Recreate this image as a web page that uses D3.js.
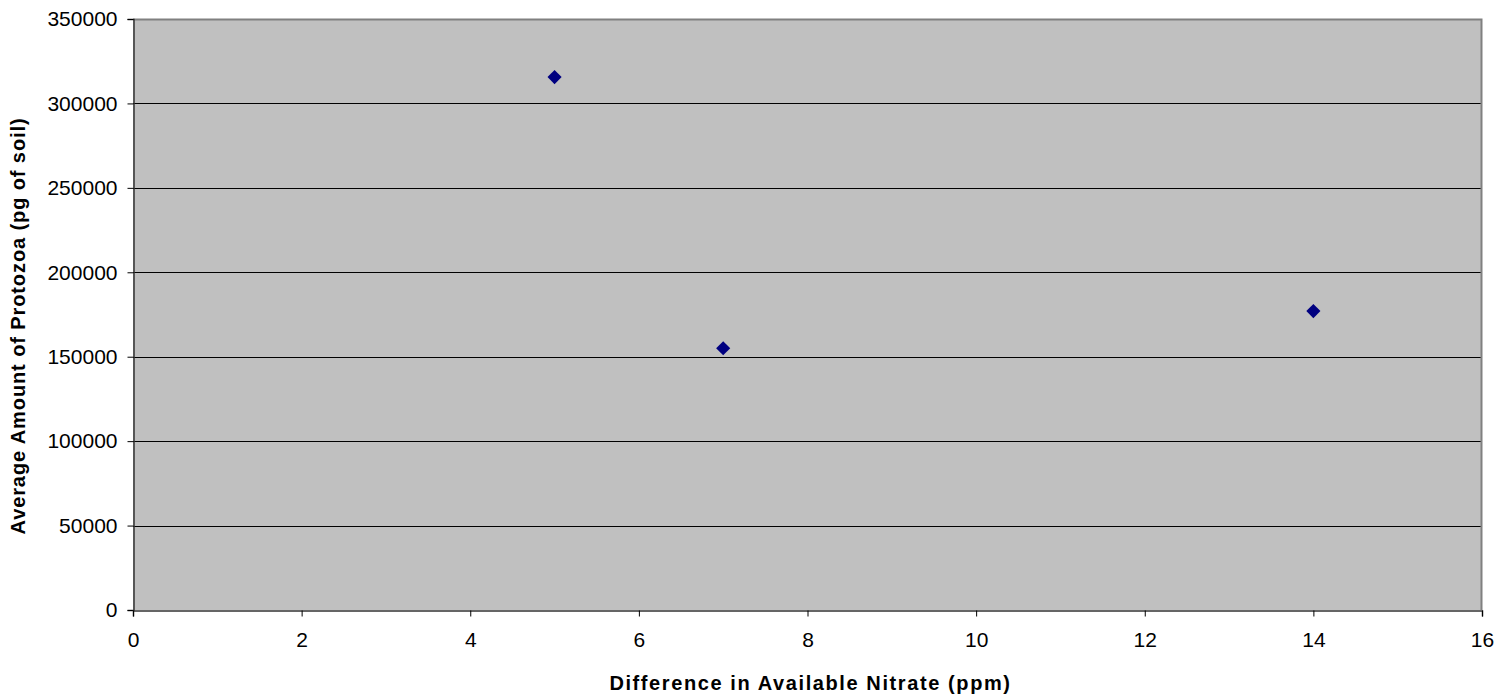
<!DOCTYPE html>
<html lang="en">
<head>
    <meta charset="UTF-8">
    <title>Protozoa vs Nitrate</title>
    <script src="https://cdn.jsdelivr.net/npm/d3@7"></script>
    <style>
        body { margin: 0; background: #fff; }
        text { font-family: Arial, "Liberation Sans", sans-serif; fill: #000; }
    </style>
</head>
<body>
<script type="application/javascript">

    let w = 1512, h = 698;
    let margin = { top: 19, right: 30, bottom: 88, left: 133 };

    // data
    let nitrate = [5, 7, 14];
    let protozoa = [315600, 155000, 177000];
    let xTicks = [0, 2, 4, 6, 8, 10, 12, 14, 16];
    let yTicks = [0, 50000, 100000, 150000, 200000, 250000, 300000, 350000];

    let xScale = d3.scaleLinear()
        .domain([0, 16])
        .range([margin.left, w - margin.right]);

    let yScale = d3.scaleLinear()
        .domain([0, 350000])
        .range([h - margin.bottom, margin.top]);

    let svg = d3.select("body")
        .append("svg")
        .attr("width", w)
        .attr("height", h);

    // plot area
    svg.append("rect")
        .attr("x", xScale(0))
        .attr("y", yScale(350000))
        .attr("width", xScale(16) - xScale(0))
        .attr("height", yScale(0) - yScale(350000))
        .attr("fill", "#c0c0c0");

    // gridlines
    svg.append("g")
        .selectAll("line")
        .data(yTicks.slice(1, -1))
        .enter()
        .append("line")
        .attr("x1", xScale(0))
        .attr("x2", xScale(16))
        .attr("y1", function(d) { return Math.round(yScale(d)) + 0.5; })
        .attr("y2", function(d) { return Math.round(yScale(d)) + 0.5; })
        .attr("stroke", "#000")
        .attr("stroke-width", 1);

    // grey top/right border
    svg.append("path")
        .attr("d", "M" + xScale(0) + "," + (Math.round(yScale(350000)) + 0.5) +
            "H" + (Math.round(xScale(16)) - 0.5) + "V" + yScale(0))
        .attr("fill", "none")
        .attr("stroke", "#808080")
        .attr("stroke-width", 2);

    // axes
    let yAxis = d3.axisLeft(yScale)
        .tickValues(yTicks)
        .tickSize(6)
        .tickPadding(10)
        .tickFormat(d3.format("d"));

    let xAxis = d3.axisBottom(xScale)
        .tickValues(xTicks)
        .tickSize(6)
        .tickPadding(16)
        .tickFormat(d3.format("d"));

    let gy = svg.append("g")
        .attr("transform", "translate(" + (Math.round(xScale(0)) + 0.5) + ",0)")
        .call(yAxis);

    let gx = svg.append("g")
        .attr("transform", "translate(0," + (Math.round(yScale(0)) + 0.5) + ")")
        .call(xAxis);

    [gx, gy].forEach(function(g) {
        g.select(".domain").attr("stroke", "#333").attr("stroke-width", 1.5);
        g.selectAll(".tick line").attr("stroke", "#000");
        g.selectAll(".tick text")
            .attr("fill", "#000")
            .style("font-size", "21px")
            .style("font-family", "Arial, 'Liberation Sans', sans-serif");
    });

    // points (navy diamonds)
    let diamond = d3.symbol().type(d3.symbolSquare).size(100);

    svg.append("g")
        .selectAll("path")
        .data(nitrate)
        .enter()
        .append("path")
        .attr("d", diamond)
        .attr("transform", function(d, i) {
            return "translate(" + xScale(d) + "," + yScale(protozoa[i]) + ") rotate(45)";
        })
        .attr("fill", "#000080");

    // axis titles
    svg.append("text")
        .attr("x", (xScale(0) + xScale(16)) / 2 + 3)
        .attr("y", 690)
        .attr("text-anchor", "middle")
        .style("font-size", "20px")
        .style("font-weight", "bold")
        .style("letter-spacing", "1.6px")
        .text("Difference in Available Nitrate (ppm)");

    svg.append("text")
        .attr("transform", "translate(25,326) rotate(-90)")
        .attr("text-anchor", "middle")
        .style("font-size", "20px")
        .style("font-weight", "bold")
        .style("letter-spacing", "0.9px")
        .text("Average Amount of Protozoa (pg of soil)");

</script>
</body>
</html>
